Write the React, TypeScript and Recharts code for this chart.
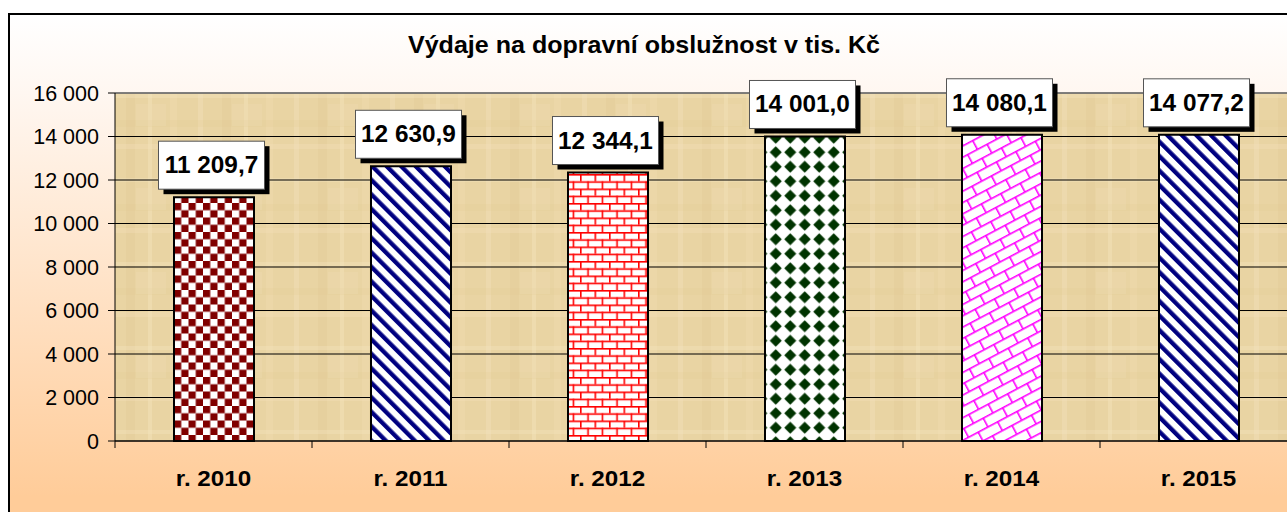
import { BarChart, Bar, XAxis, YAxis, CartesianGrid, Cell, LabelList, ReferenceLine } from 'recharts';

const years = ['r. 2010', 'r. 2011', 'r. 2012', 'r. 2013', 'r. 2014', 'r. 2015'];
const spending = [11209.7, 12630.9, 12344.1, 14001.0, 14080.1, 14077.2];
const yTicks = [0, 2000, 4000, 6000, 8000, 10000, 12000, 14000, 16000];
const fills = ['url(#checker)', 'url(#stripes)', 'url(#bricks)', 'url(#diamonds)', 'url(#diagBricks)', 'url(#stripes)'];

const data = years.map((year, i) => ({ year, value: spending[i] }));

const FONT = '"Liberation Sans", Arial, sans-serif';
const PLOT_W = 1182;
const HALF_BAND = PLOT_W / years.length / 2;

// czech style: "14 077,2"
function czNumber(v: number, decimals = 0) {
  const [int, dec] = v.toFixed(decimals).split('.');
  const grouped = int.replace(/\B(?=(\d{3})+(?!\d))/g, ' ');
  return dec ? `${grouped},${dec}` : grouped;
}

// the original text is a bit wider than it is tall
const stretch = (cx: number, k: number) => `translate(${cx},0) scale(${k},1) translate(${-cx},0)`;

function ValueBox(props: any) {
  const { x, y, width, value } = props;
  const cx = Number(x) + Number(width) / 2;
  const w = 106, h = 48, sh = 5;
  const left = cx - (w + sh) / 2;
  const top = Number(y) - 8 - h;
  return (
    <g>
      <rect x={left + sh} y={top + sh} width={w} height={h} fill="#000" />
      <rect x={left} y={top} width={w} height={h} fill="#fff" stroke="#555" strokeWidth={1} />
      <text
        x={left + w / 2}
        y={top + h / 2 + 8}
        textAnchor="middle"
        fontFamily={FONT}
        fontWeight="bold"
        fontSize={23}
        fill="#000"
        transform={stretch(left + w / 2, 1.06)}
      >
        {czNumber(Number(value), 1)}
      </text>
    </g>
  );
}

function YearTick(props: any) {
  const { x, y, payload } = props;
  return (
    <g>
      <line x1={x - HALF_BAND} x2={x - HALF_BAND} y1={y} y2={y + 7} stroke="#000" />
      <text x={x} y={y + 45} textAnchor="middle" fontFamily={FONT} fontWeight="bold" fontSize={22} fill="#000" transform={stretch(x, 1.1)}>
        {payload.value}
      </text>
    </g>
  );
}

export default function App() {
  return (
    <div style={{ position: 'fixed', left: 0, top: 0, width: 1287, height: 512, overflow: 'hidden', background: '#fff' }}>
      <div
        style={{
          position: 'absolute', left: 8, top: 13, width: 1320, height: 520, boxSizing: 'border-box',
          borderLeft: '2px solid #000', borderTop: '2px solid #000',
          background: 'linear-gradient(to bottom, #ffffff 0%, #fff7f1 15%, #ffcc99 93%)',
        }}
      />
      <div style={{ position: 'absolute', left: 0, top: 0 }}>
        <BarChart width={1307} height={512} data={data} margin={{ top: 93, right: 10, left: 0, bottom: 10 }} barSize={80}>
          <defs>
            <pattern id="papyrus" width="96" height="84" patternUnits="userSpaceOnUse">
              <rect width="96" height="84" fill="#e9d4a3" />
              <rect x="6" y="0" width="5" height="84" fill="#f3e2bb" opacity="0.4" />
              <rect x="30" y="0" width="9" height="84" fill="#dcc28b" opacity="0.22" />
              <rect x="52" y="0" width="4" height="84" fill="#f5e6c3" opacity="0.35" />
              <rect x="74" y="0" width="7" height="84" fill="#efdcb0" opacity="0.35" />
              <rect x="0" y="10" width="96" height="4" fill="#f4e4c0" opacity="0.35" />
              <rect x="0" y="36" width="96" height="7" fill="#dfc792" opacity="0.2" />
              <rect x="0" y="60" width="96" height="5" fill="#f2e0b9" opacity="0.35" />
              <rect x="40" y="20" width="30" height="22" fill="#f0dcb4" opacity="0.3" />
            </pattern>
            <pattern id="checker" width="14.5" height="14.5" patternUnits="userSpaceOnUse">
              <rect width="14.5" height="14.5" fill="#fff" />
              <rect width="7.25" height="7.25" fill="#800000" />
              <rect x="7.25" y="7.25" width="7.25" height="7.25" fill="#800000" />
            </pattern>
            <pattern id="stripes" width="10.25" height="10.25" patternUnits="userSpaceOnUse" patternTransform="rotate(-45)">
              <rect width="10.25" height="10.25" fill="#fff" />
              <rect width="4.3" height="10.25" fill="#000080" />
            </pattern>
            <pattern id="bricks" width="14.5" height="14.5" patternUnits="userSpaceOnUse">
              <rect width="14.5" height="14.5" fill="#fff" />
              <rect y="0" width="14.5" height="1.6" fill="#ff0000" />
              <rect y="7.25" width="14.5" height="1.6" fill="#ff0000" />
              <rect x="0" y="0" width="1.6" height="7.25" fill="#ff0000" />
              <rect x="7.25" y="7.25" width="1.6" height="7.25" fill="#ff0000" />
            </pattern>
            <pattern id="diamonds" width="14.5" height="14.5" patternUnits="userSpaceOnUse">
              <rect width="14.5" height="14.5" fill="#fff" />
              <polygon points="7.25,1.2 13.3,7.25 7.25,13.3 1.2,7.25" fill="#003300" />
            </pattern>
            <pattern id="diagBricks" width="22" height="20" patternUnits="userSpaceOnUse" patternTransform="rotate(-28)">
              <rect width="22" height="20" fill="#fff" />
              <rect y="0" width="22" height="1.6" fill="#ff00ff" />
              <rect y="10" width="22" height="1.6" fill="#ff00ff" />
              <rect x="0" y="0" width="1.6" height="10" fill="#ff00ff" />
              <rect x="11" y="10" width="1.6" height="10" fill="#ff00ff" />
            </pattern>
          </defs>
          <CartesianGrid vertical={false} stroke="#000" strokeWidth={1} fill="url(#papyrus)" fillOpacity={1} />
          <ReferenceLine y={16000} stroke="#808080" strokeWidth={1.5} />
          <XAxis
            dataKey="year"
            stroke="#000"
            tickLine={false}
            tickSize={0}
            tickMargin={0}
            height={61}
            tick={<YearTick />}
          />
          <YAxis
            width={115}
            domain={[0, 16000]}
            ticks={yTicks}
            tickFormatter={(v: number) => czNumber(v)}
            stroke="#000"
            tickSize={7}
            tickMargin={9}
            tick={{ fill: '#000', fontSize: 21.5, fontFamily: FONT }}
          />
          <Bar dataKey="value" isAnimationActive={false} stroke="#000" strokeWidth={2}>
            {data.map((d, i) => (
              <Cell key={d.year} fill={fills[i]} stroke="#000" strokeWidth={2} />
            ))}
            <LabelList dataKey="value" content={<ValueBox />} />
          </Bar>
        </BarChart>
      </div>
      <svg width={1287} height={512} style={{ position: 'absolute', left: 0, top: 0, pointerEvents: 'none' }}>
        <text x={644} y={53} textAnchor="middle" fontFamily={FONT} fontWeight="bold" fontSize={23} fill="#000" transform={stretch(644, 1.09)}>
          Výdaje na dopravní obslužnost v tis. Kč
        </text>
      </svg>
    </div>
  );
}
